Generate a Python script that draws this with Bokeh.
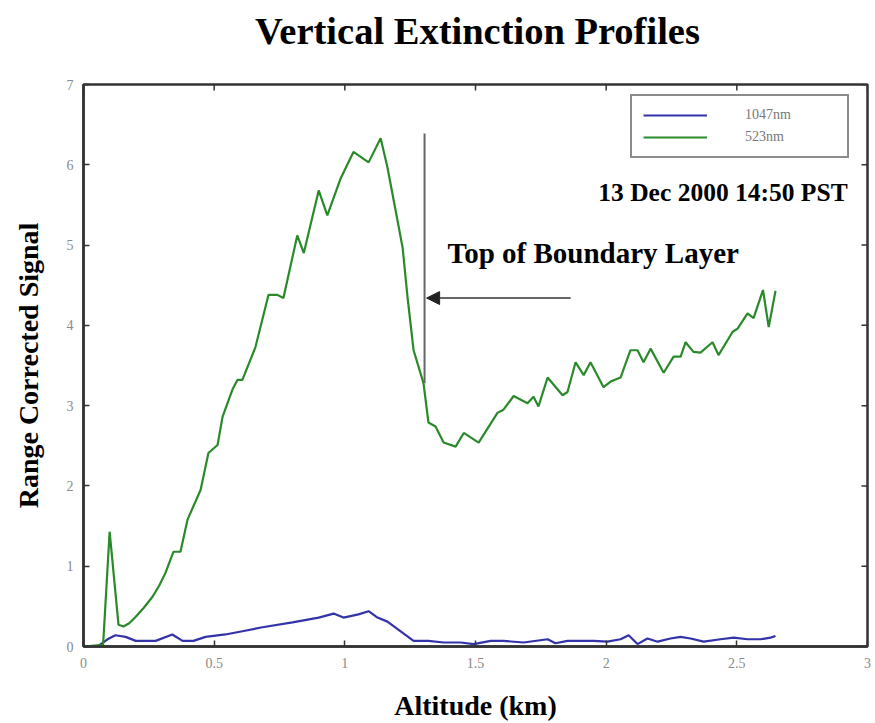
import math
from bokeh.plotting import figure
from bokeh.models import (Range1d, FixedTicker, CustomJSTickFormatter,
                          Legend, LegendItem, Label, Arrow, NormalHead)
from bokeh.embed import file_html
from bokeh.resources import INLINE

# Lidar range-corrected signal vs altitude (km)
alt_523 = [0.0, 0.075, 0.100, 0.134, 0.153, 0.175, 0.200, 0.230, 0.264, 0.290, 0.314,
           0.344, 0.371, 0.398, 0.448, 0.478, 0.513, 0.532, 0.570, 0.589, 0.608, 0.658,
           0.708, 0.742, 0.765, 0.818, 0.843, 0.900, 0.933, 0.984, 1.033, 1.091, 1.137,
           1.163, 1.221, 1.240, 1.263, 1.301, 1.320, 1.347, 1.378, 1.424, 1.455, 1.512,
           1.584, 1.607, 1.646, 1.699, 1.722, 1.741, 1.776, 1.833, 1.852, 1.883, 1.914,
           1.940, 1.990, 2.017, 2.055, 2.093, 2.120, 2.143, 2.170, 2.220, 2.258, 2.285,
           2.304, 2.334, 2.361, 2.407, 2.430, 2.484, 2.503, 2.541, 2.564, 2.600, 2.622,
           2.648]
sig_523 = [0.0, 0.02, 1.43, 0.27, 0.25, 0.29, 0.37, 0.48, 0.62, 0.76, 0.92,
           1.18, 1.18, 1.58, 1.95, 2.41, 2.51, 2.86, 3.20, 3.32, 3.32, 3.73,
           4.38, 4.38, 4.34, 5.12, 4.90, 5.68, 5.37, 5.83, 6.16, 6.03, 6.33,
           5.97, 4.97, 4.35, 3.69, 3.28, 2.79, 2.74, 2.54, 2.49, 2.66, 2.54,
           2.91, 2.95, 3.12, 3.03, 3.11, 2.99, 3.35, 3.13, 3.17, 3.54, 3.38,
           3.54, 3.23, 3.30, 3.35, 3.69, 3.69, 3.54, 3.71, 3.41, 3.61, 3.61,
           3.79, 3.67, 3.66, 3.79, 3.63, 3.92, 3.96, 4.15, 4.09, 4.44, 3.98,
           4.43]

alt_1047 = [0.0, 0.054, 0.092, 0.122, 0.161, 0.200, 0.276, 0.340, 0.379, 0.421, 0.467,
            0.543, 0.608, 0.685, 0.800, 0.900, 0.957, 0.995, 1.052, 1.091, 1.125, 1.163,
            1.263, 1.320, 1.378, 1.443, 1.493, 1.558, 1.607, 1.684, 1.776, 1.806, 1.852,
            1.952, 2.005, 2.055, 2.086, 2.120, 2.158, 2.197, 2.246, 2.285, 2.323, 2.373,
            2.438, 2.488, 2.541, 2.591, 2.629, 2.648]
sig_1047 = [0.0, 0.0, 0.09, 0.14, 0.12, 0.07, 0.07, 0.15, 0.07, 0.07, 0.12,
            0.15, 0.19, 0.24, 0.30, 0.36, 0.41, 0.36, 0.40, 0.44, 0.36, 0.31,
            0.07, 0.07, 0.05, 0.05, 0.03, 0.07, 0.07, 0.05, 0.09, 0.04, 0.07,
            0.07, 0.06, 0.09, 0.14, 0.03, 0.10, 0.06, 0.10, 0.12, 0.10, 0.06,
            0.09, 0.11, 0.09, 0.09, 0.11, 0.13]

x_ticks = [0, 0.5, 1, 1.5, 2, 2.5, 3]
y_ticks = [0, 1, 2, 3, 4, 5, 6, 7]
X_MAX, Y_MAX = 3, 7

# boundary-layer marker
bl_alt = 1.305
bl_sig_low, bl_sig_high = 3.28, 6.39
arrow_from = (1.864, 4.34)
arrow_to = (1.313, 4.34)

SERIF = "Liberation Serif"
AX = "#333333"

p = figure(width=875, height=723, output_backend="svg", toolbar_location=None,
           x_range=Range1d(0, X_MAX), y_range=Range1d(0, Y_MAX),
           min_border_left=83, min_border_right=8, min_border_top=84, min_border_bottom=76,
           x_axis_label="Altitude (km)", y_axis_label="Range Corrected Signal")
p.outline_line_color = AX
p.outline_line_width = 2.5
p.xgrid.visible = False
p.ygrid.visible = False
p.background_fill_color = "white"
p.border_fill_color = "white"

# chart title, placed in the band above the frame
p.add_layout(Label(x=394, y=54, x_units="screen", y_units="screen",
                   text="Vertical Extinction Profiles",
                   text_font=SERIF, text_font_style="bold", text_font_size="38.5px",
                   text_color="black", text_align="center", text_baseline="middle"),
             "above")

fmt = CustomJSTickFormatter(code="return tick.toString();")

def style_axis(ax, ticks):
    ax.ticker = FixedTicker(ticks=ticks)
    ax.formatter = fmt
    ax.axis_line_color = AX
    ax.axis_line_width = 2.5
    ax.major_tick_in = 6
    ax.major_tick_out = 0
    ax.major_tick_line_color = AX
    ax.major_tick_line_width = 1.5
    ax.minor_tick_line_color = None
    ax.major_label_text_font = SERIF
    ax.major_label_text_font_size = "14px"
    ax.major_label_text_color = "#8a8a8a"
    ax.axis_label_text_font = SERIF
    ax.axis_label_text_font_style = "bold"
    ax.axis_label_text_font_size = "28px"
    ax.axis_label_text_color = "black"

style_axis(p.xaxis[0], x_ticks)
p.xaxis[0].major_label_standoff = 11
p.xaxis[0].axis_label_standoff = 19
style_axis(p.yaxis[0], y_ticks)
p.yaxis[0].major_label_standoff = 10
p.yaxis[0].axis_label_standoff = 20

# mirrored inward ticks on the top and right edges of the frame
p.scatter(x=x_ticks, y=[Y_MAX] * len(x_ticks), marker="dash", size=12,
          angle=math.pi / 2, line_color=AX, line_width=1.5)
p.scatter(x=[X_MAX] * len(y_ticks), y=y_ticks, marker="dash", size=12,
          line_color=AX, line_width=1.5)

r_1047 = p.line(alt_1047, sig_1047, line_color="#3232aa", line_width=2.2)
r_523 = p.line(alt_523, sig_523, line_color="#2a8a2a", line_width=2.2)

# boundary-layer marker line and arrow
p.segment(x0=[bl_alt], y0=[bl_sig_low], x1=[bl_alt], y1=[bl_sig_high],
          line_color="#666666", line_width=2)
p.add_layout(Arrow(end=NormalHead(size=13, fill_color="#222222", line_color="#222222"),
                   x_start=arrow_from[0], y_start=arrow_from[1],
                   x_end=arrow_to[0], y_end=arrow_to[1],
                   line_color="#333333", line_width=1.5))

p.add_layout(Label(x=1.393, y=4.70, text="Top of Boundary Layer", text_font=SERIF,
                   text_font_style="bold", text_font_size="29px", text_color="black"))
p.add_layout(Label(x=2.924, y=5.47, text="13 Dec 2000 14:50 PST", text_font=SERIF,
                   text_font_style="bold", text_font_size="25.5px", text_color="black",
                   text_align="right"))

legend = Legend(items=[LegendItem(label="1047nm", renderers=[r_1047]),
                       LegendItem(label="523nm", renderers=[r_523])],
                location=(547, 488), orientation="vertical",
                border_line_color="#1a1a1a", border_line_width=2,
                background_fill_color="white", background_fill_alpha=1,
                padding=11, spacing=6, margin=0,
                glyph_width=64, glyph_height=14, label_standoff=38,
                label_width=91, label_height=14,
                label_text_font=SERIF, label_text_font_size="14px",
                label_text_color="#777777")
p.add_layout(legend)

open("out.html", "w").write(file_html(p, INLINE))
